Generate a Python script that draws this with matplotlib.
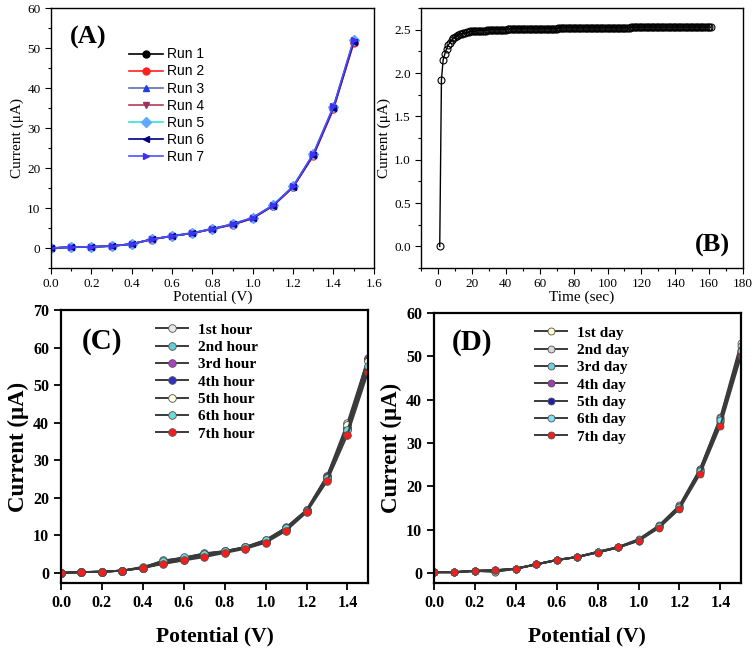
import numpy as np
import matplotlib
matplotlib.use("Agg")
import matplotlib.pyplot as plt
from matplotlib.ticker import MultipleLocator

SERIF = ["Liberation Serif", "DejaVu Serif"]
SANS = ["Liberation Sans", "DejaVu Sans"]

# ---------------- data ----------------
potential = [0.0, 0.1, 0.2, 0.3, 0.4, 0.5, 0.6, 0.7, 0.8, 0.9, 1.0, 1.1, 1.2, 1.3, 1.4, 1.5]

runs = {
    "Run 1": [0.0, 0.2, 0.3, 0.5, 1.0, 2.2, 3.0, 3.7, 4.8, 5.9, 7.5, 10.6, 15.3, 23.3, 35.0, 51.5],
    "Run 2": [0.0, 0.2, 0.3, 0.5, 1.0, 2.1, 3.0, 3.7, 4.7, 5.8, 7.4, 10.5, 15.2, 23.0, 34.7, 51.2],
    "Run 3": [0.0, 0.2, 0.3, 0.5, 1.0, 2.2, 3.0, 3.8, 4.8, 6.0, 7.6, 10.7, 15.4, 23.5, 35.2, 51.8],
    "Run 4": [0.0, 0.2, 0.3, 0.5, 1.0, 2.2, 3.0, 3.7, 4.8, 5.9, 7.5, 10.6, 15.3, 23.2, 35.0, 51.4],
    "Run 5": [0.0, 0.2, 0.3, 0.5, 1.0, 2.2, 3.1, 3.8, 4.8, 6.0, 7.6, 10.7, 15.4, 23.4, 35.3, 51.9],
    "Run 6": [0.0, 0.2, 0.3, 0.5, 1.0, 2.2, 3.0, 3.7, 4.8, 5.9, 7.5, 10.6, 15.3, 23.3, 35.1, 51.6],
    "Run 7": [0.0, 0.2, 0.3, 0.5, 1.0, 2.2, 3.0, 3.7, 4.8, 6.0, 7.6, 10.7, 15.4, 23.6, 35.4, 52.1],
}
run_styles = [
    ("black", "black", "o"),
    ("#ff2020", "#ff2020", "o"),
    ("#6070b0", "#2040e0", "^"),
    ("#b04050", "#a03060", "v"),
    ("#30e0e0", "#60a8ff", "D"),
    ("#000080", "#000080", "<"),
    ("#5050ff", "#4030f0", ">"),
]

# chronoamperometry, sampled every second
time_s = np.arange(1, 162)
current_t = (
    [0.00, 1.92, 2.15, 2.22, 2.28, 2.32, 2.35, 2.38, 2.40, 2.42,
     2.43, 2.44, 2.45, 2.45, 2.46, 2.46, 2.47, 2.47, 2.48, 2.48,
     2.48, 2.48, 2.49, 2.49, 2.49, 2.49, 2.49, 2.49, 2.50, 2.50,
     2.50, 2.50, 2.50, 2.50, 2.50, 2.50, 2.50, 2.50, 2.50, 2.50,
     2.51, 2.51, 2.51, 2.51, 2.51, 2.51, 2.51, 2.51, 2.51, 2.51,
     2.51, 2.51, 2.51, 2.51, 2.51, 2.51, 2.51, 2.51, 2.51, 2.51,
     2.51, 2.51, 2.51, 2.51, 2.51, 2.51, 2.51, 2.51, 2.51, 2.51,
     2.52, 2.52, 2.52, 2.52, 2.52, 2.52, 2.52, 2.52, 2.52, 2.52,
     2.52, 2.52, 2.52, 2.52, 2.52, 2.52, 2.52, 2.52, 2.52, 2.52,
     2.52, 2.52, 2.52, 2.52, 2.52, 2.52, 2.52, 2.52, 2.52, 2.52,
     2.52, 2.52, 2.52, 2.52, 2.52, 2.52, 2.52, 2.52, 2.52, 2.52,
     2.52, 2.52, 2.52, 2.53, 2.53, 2.53, 2.53, 2.53, 2.53, 2.53,
     2.53, 2.53, 2.53, 2.53, 2.53, 2.53, 2.53, 2.53, 2.53, 2.53,
     2.53, 2.53, 2.53, 2.53, 2.53, 2.53, 2.53, 2.53, 2.53, 2.53,
     2.53, 2.53, 2.53, 2.53, 2.53, 2.53, 2.53, 2.53, 2.53, 2.53,
     2.53, 2.53, 2.53, 2.53, 2.53, 2.53, 2.53, 2.53, 2.53, 2.53,
     2.53]
)

hours = {
    "1st hour": [0.0, 0.2, 0.3, 0.6, 1.6, 3.0, 4.0, 5.0, 5.8, 6.9, 8.8, 12.0, 16.8, 25.8, 40.0, 57.0],
    "2nd hour": [0.0, 0.2, 0.3, 0.6, 1.4, 3.3, 4.0, 5.2, 5.8, 6.8, 8.6, 12.1, 16.7, 25.6, 38.5, 54.2],
    "3rd hour": [0.0, 0.2, 0.3, 0.6, 1.3, 2.6, 3.6, 4.8, 5.6, 6.7, 8.4, 12.0, 16.6, 25.8, 38.7, 57.2],
    "4th hour": [0.0, 0.2, 0.3, 0.6, 1.3, 2.5, 3.4, 4.6, 5.5, 6.6, 8.3, 11.8, 16.5, 25.5, 38.3, 56.8],
    "5th hour": [0.0, 0.2, 0.3, 0.6, 1.4, 2.8, 3.8, 4.9, 5.7, 6.8, 8.6, 11.6, 16.4, 25.0, 39.5, 56.3],
    "6th hour": [0.0, 0.2, 0.3, 0.6, 1.4, 3.2, 4.1, 5.1, 5.7, 6.8, 8.7, 11.9, 16.6, 25.3, 38.0, 55.0],
    "7th hour": [0.0, 0.2, 0.3, 0.6, 1.3, 2.4, 3.3, 4.2, 5.3, 6.4, 8.0, 11.2, 16.1, 24.4, 36.8, 53.4],
}
hour_colors = ["#e8e8e8", "#60d0d0", "#b040c0", "#3030c0", "#ffffe0", "#70d8d8", "#ff1a1a"]

days = {
    "1st day": [0.2, 0.2, 0.5, 0.3, 1.0, 2.0, 3.0, 3.7, 4.9, 6.0, 7.8, 11.0, 15.6, 24.0, 36.0, 53.0],
    "2nd day": [0.2, 0.2, 0.5, 0.3, 1.0, 2.0, 3.0, 3.7, 4.9, 6.0, 7.7, 10.9, 15.5, 23.9, 35.5, 52.5],
    "3rd day": [0.2, 0.2, 0.5, 0.6, 1.0, 2.0, 3.0, 3.7, 4.8, 5.9, 7.6, 10.8, 15.3, 23.8, 35.8, 51.5],
    "4th day": [0.2, 0.2, 0.5, 0.6, 1.0, 2.0, 3.0, 3.7, 4.8, 5.9, 7.5, 10.6, 15.0, 23.3, 35.0, 51.0],
    "5th day": [0.2, 0.2, 0.5, 0.6, 1.0, 2.0, 3.0, 3.7, 4.8, 5.9, 7.5, 10.6, 15.0, 23.2, 34.8, 50.6],
    "6th day": [0.2, 0.2, 0.5, 0.6, 1.0, 2.0, 3.0, 3.7, 4.8, 5.9, 7.6, 10.8, 15.2, 23.5, 35.3, 51.2],
    "7th day": [0.2, 0.2, 0.5, 0.7, 1.0, 2.0, 3.0, 3.7, 4.7, 5.9, 7.4, 10.4, 14.8, 22.8, 34.0, 50.0],
}
day_colors = ["#ffffd0", "#d8d8d8", "#70d0e0", "#a040b0", "#2020b0", "#80e0f0", "#ff1a1a"]

# ---------------- figure ----------------
fig = plt.figure(figsize=(7.56, 6.49), dpi=100)
axA = fig.add_axes([0.0675, 0.587, 0.427, 0.4006])
axB = fig.add_axes([0.557, 0.587, 0.426, 0.4006])
axC = fig.add_axes([0.0807, 0.1017, 0.406, 0.4206])
axD = fig.add_axes([0.574, 0.1017, 0.406, 0.416])


def plain_ticks(ax, fs=9.5):
    ax.tick_params(which="both", direction="out", labelsize=fs, width=0.8)
    ax.tick_params(which="major", length=4)
    ax.tick_params(which="minor", length=2.5)
    for lab in ax.get_xticklabels() + ax.get_yticklabels():
        lab.set_fontfamily(SERIF)
    for s in ax.spines.values():
        s.set_linewidth(1.0)


# (A)
for (name, vals), (lc, mc, mk) in zip(runs.items(), run_styles):
    axA.plot(potential, vals, color=lc, lw=1.2, marker=mk, ms=5,
             mfc=mc, mec=mc, label=name)
axA.set_xlim(0, 1.6)
axA.set_ylim(-5, 60)
axA.xaxis.set_major_locator(MultipleLocator(0.2))
axA.xaxis.set_minor_locator(MultipleLocator(0.1))
axA.yaxis.set_major_locator(MultipleLocator(10))
axA.yaxis.set_minor_locator(MultipleLocator(5))
axA.set_xticklabels([f"{v:.1f}" for v in axA.get_xticks()])
plain_ticks(axA)
axA.set_xlabel("Potential (V)", fontfamily=SERIF, fontsize=11, labelpad=0)
axA.set_ylabel("Current (μA)", fontfamily=SERIF, fontsize=11, labelpad=2)
axA.legend(loc="upper left", bbox_to_anchor=(0.225, 0.87), frameon=False,
           prop={"family": SANS, "size": 10}, handlelength=2.4,
           handletextpad=0.3, labelspacing=0.22, borderaxespad=0)
axA.text(0.115, 0.888, "(A)", transform=axA.transAxes, fontfamily=SERIF,
         fontsize=19, fontweight="bold", ha="center", va="center")

# (B)
axB.plot(time_s, current_t, color="black", lw=1.0, marker="o", ms=5,
         mfc="none", mec="black", mew=0.8)
axB.set_xlim(-10, 180)
axB.set_ylim(-0.25, 2.75)
axB.xaxis.set_major_locator(MultipleLocator(20))
axB.xaxis.set_minor_locator(MultipleLocator(10))
axB.yaxis.set_major_locator(MultipleLocator(0.5))
axB.yaxis.set_minor_locator(MultipleLocator(0.25))
axB.set_yticklabels([f"{v:.1f}" for v in axB.get_yticks()])
plain_ticks(axB)
axB.set_xlabel("Time (sec)", fontfamily=SERIF, fontsize=11, labelpad=0)
axB.set_ylabel("Current (μA)", fontfamily=SERIF, fontsize=11, labelpad=2)
axB.text(0.904, 0.085, "(B)", transform=axB.transAxes, fontfamily=SERIF,
         fontsize=19, fontweight="bold", ha="center", va="center")


def bold_panel(ax, data, colors, ylim, ymax_step, tag, tag_xy, leg_xy, ms):
    for (name, vals), c in zip(data.items(), colors):
        ax.plot(potential, vals, color="#3a3a3a", lw=1.4, marker="o", ms=ms,
                mfc=c, mec="#505050", mew=0.6, label=name)
    ax.set_xlim(0, 1.5)
    ax.set_ylim(*ylim)
    ax.yaxis.set_major_locator(MultipleLocator(ymax_step))
    ax.set_xticks(np.arange(0, 1.41, 0.2))
    ax.set_xticklabels([f"{v:.1f}" for v in ax.get_xticks()])
    ax.tick_params(direction="out", length=5, width=1.3, labelsize=11.5)
    for lab in ax.get_xticklabels() + ax.get_yticklabels():
        lab.set_fontfamily(SERIF)
        lab.set_fontweight("bold")
    for s in ax.spines.values():
        s.set_linewidth(1.6)
    ax.set_xlabel("Potential (V)", fontfamily=SERIF, fontsize=15.5,
                  fontweight="bold", labelpad=11)
    ax.set_ylabel("Current (μA)", fontfamily=SERIF, fontsize=16.5,
                  fontweight="bold", labelpad=3)
    ax.legend(loc="upper left", bbox_to_anchor=leg_xy, frameon=False,
              prop={"family": SERIF, "size": 11, "weight": "bold"},
              handlelength=2.1, handletextpad=0.65, labelspacing=0.24,
              borderaxespad=0)
    ax.text(tag_xy[0], tag_xy[1], tag, transform=ax.transAxes,
            fontfamily=SERIF, fontsize=21, fontweight="bold",
            ha="center", va="center")


bold_panel(axC, hours, hour_colors, (-2.7, 70), 10, "(C)", (0.134, 0.883), (0.29, 0.975), 5.5)
bold_panel(axD, days, day_colors, (-2.3, 60), 10, "(D)", (0.124, 0.889), (0.31, 0.975), 5)

fig.savefig("out.png", dpi=100)
